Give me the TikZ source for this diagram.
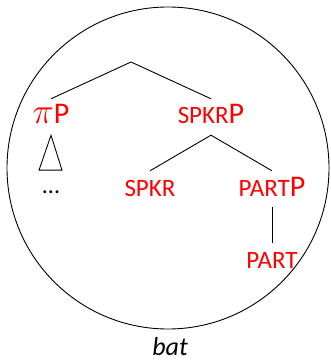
\documentclass[tikz,border=0pt]{standalone}
\usepackage{fontspec}
\setmainfont{Carlito}
\usepackage{tikz}
\usetikzlibrary{positioning}
\definecolor{TreeRed}{HTML}{FF0000}
\newcommand{\smcap}[1]{{\fontsize{25}{25}\selectfont #1}}
\newcommand{\bigpi}{\scalebox{1.45}{$\pi$}}

\begin{document}
\begin{tikzpicture}[x=1pt,y=-1pt,
  cat/.style={text=TreeRed,font=\fontsize{30}{30}\selectfont,anchor=base,text height=19pt,text depth=5pt,inner xsep=0pt,inner ysep=6pt},
  branch/.style={draw=black,line width=0.9pt},
]
\useasboundingbox (0,0) rectangle (330,363);
\node[draw,circle,line width=0.9pt,minimum size=322pt,inner sep=0pt] (bubble) at (168,168) {};
\coordinate (root) at (131,62);
\node[cat] (piP) at (51,124) {\bigpi P};
\node[cat] (spkrP) at (211,124) {\smcap{SPKR}P};
\node[cat] (spkr) at (150,196) {\smcap{SPKR}};
\node[cat] (partP) at (272,196) {\smcap{PART}P};
\node[cat] (part) at (272,268) {\smcap{PART}};
\node[font=\fontsize{24}{24}\selectfont,anchor=base] (dots) at (51,193) {...};
\node[font=\fontsize{26}{26}\selectfont\itshape,anchor=base,inner sep=1pt] (word) at (170,355) {bat};
\draw[branch] (piP.north) -- (root) -- (spkrP.north);
\draw[branch] (spkr.north) -- (spkrP.south) -- (partP.north);
\draw[branch] (partP.south) -- (part.north);
\draw[branch] (piP.south) -- ++(-12,35) -- ++(23,0) -- cycle;
\end{tikzpicture}
\end{document}
